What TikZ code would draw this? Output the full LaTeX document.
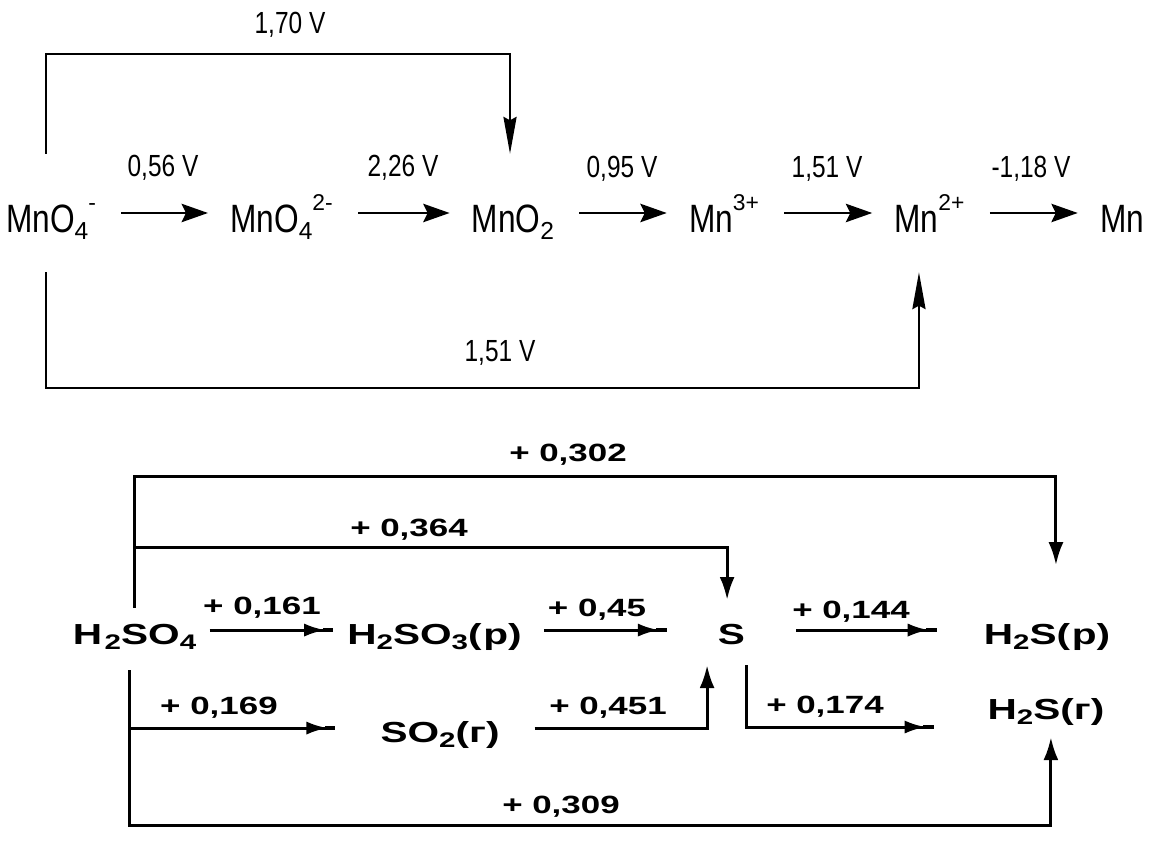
\documentclass[tikz,border=0pt]{standalone}
\usepackage{fontspec}
\setmainfont{Liberation Sans}
\newfontfamily\mnfont[FakeStretch=0.8]{Liberation Sans}
\newfontfamily\sbfont[FakeStretch=1.4]{Liberation Sans Bold}
\usetikzlibrary{arrows.meta}
\newcommand{\chup}[1]{\raisebox{12.5pt}{\rmfamily\fontsize{13}{13}\selectfont #1}}
\newcommand{\chdn}[1]{\raisebox{-4pt}{\rmfamily\fontsize{14}{14}\selectfont #1}}
\newcommand{\sdn}[1]{\raisebox{-2.5pt}{\fontsize{12}{12}\selectfont #1}}
\tikzset{
  mnspecies/.style={font=\mnfont\fontsize{22.5}{26}\selectfont, inner sep=0pt, minimum height=2cm, text height=24pt, text depth=1.3pt},
  mnvolt/.style={font=\mnfont\fontsize{17.4}{20}\selectfont, inner sep=0pt},
  mnarrow/.style={line width=1pt, -{Stealth[length=15pt,width=10.5pt,inset=2.5pt]}, shorten <=14.2pt, shorten >=12.5pt},
  mnloop/.style={line width=1pt, shorten <=5.1pt, shorten >=5.1pt},
  mnloopto/.style={mnloop, -{Stealth[length=21pt,width=7.5pt,inset=2pt]}},
  sspecies/.style={font=\sbfont\fontsize{16.5}{18}\selectfont, inner sep=0pt, text height=17pt, text depth=0pt, anchor=base},
  svolt/.style={font=\sbfont\fontsize{14.2}{16}\selectfont, inner sep=0pt},
  sline/.style={line width=1.7pt},
  sarrow/.style={sline, -{Latex[length=12pt,width=7.5pt,sep=-1.5pt] Rectangle[length=6pt,width=2.6pt,sep=0pt]}},
  sarrowv/.style={sline, -{Latex[length=13pt,width=8.5pt]}}
}
\begin{document}
\begin{tikzpicture}[x=0.02cm,y=-0.02cm]
        \useasboundingbox (0,0) rectangle (1150,864);

        % manganese
        \node[mnspecies] (mno4) at (51,213) {MnO\chdn{4}\chup{-}};
        \node[mnspecies] (mno42) at (281.5,213) {MnO\chdn{4}\chup{2-}};
        \node[mnspecies] (mno2) at (513,213) {MnO\chdn{2}};
        \node[mnspecies] (mn3) at (724,213) {Mn\chup{3+}};
        \node[mnspecies] (mn2) at (929.5,213) {Mn\chup{2+}};
        \node[mnspecies] (mn) at (1122,213) {Mn};

        \draw[mnarrow] (mno4) -- (mno42);
        \draw[mnarrow] (mno42) -- (mno2);
        \draw[mnarrow] (mno2) -- (mn3);
        \draw[mnarrow] (mn3) -- (mn2);
        \draw[mnarrow] (mn2) -- (mn);
        \draw[mnloopto] ([xshift=-2.8pt]mno4.north) -- ++(0,-109) -| ([xshift=-1.7pt]mno2.north);
        \draw[mnloopto] ([xshift=-2.8pt]mno4.south) -- ++(0,125) -| ([xshift=-6pt]mn2.south);

        \node[mnvolt] (u170) at (290,25) {1,70 V};
        \node[mnvolt] (u056) at (163,168) {0,56 V};
        \node[mnvolt] (u226) at (403,168) {2,26 V};
        \node[mnvolt] (u095) at (622,169) {0,95 V};
        \node[mnvolt] (u151) at (827,169) {1,51 V};
        \node[mnvolt] (u118) at (1031,169) {-1,18 V};
        \node[mnvolt] (u151b) at (500,353) {1,51 V};

        % sulfur
        \node[sspecies] (h2so4) at (134.5,645) {H\kern1.5pt\sdn{2}SO\sdn{4}};
        \node[sspecies] (h2so3) at (434.5,645) {H\sdn{2}SO\sdn{3}(\kern1pt р)};
        \node[sspecies] (s) at (731.5,645) {S};
        \node[sspecies] (h2sp) at (1047,645) {H\sdn{2}S(\kern1pt р)};
        \node[sspecies] (so2) at (440,743) {SO\sdn{2}(г)};
        \node[sspecies] (h2sg) at (1046,720) {H\sdn{2}S(г)};

        \draw[sarrowv, shorten <=4pt, shorten >=28.3pt] (h2so4.north) -- ++(0,-138) -| ([xshift=5.1pt]h2sp.north);
        \draw[sarrowv, shorten <=4pt, shorten >=8.5pt] (h2so4.north) -- ++(0,-67) -| ([xshift=-2.5pt]s.north);
        \draw[sarrow, shorten <=7.4pt, shorten >=7.9pt] (h2so4.east) -- (h2so3.west);
        \draw[sarrow, shorten <=12.5pt, shorten >=28.9pt] (h2so3.east) -- (s.west);
        \draw[sarrow, shorten <=28.9pt, shorten >=26.6pt] (s.east) -- (h2sp.west);
        \draw[sarrow, shorten <=14.2pt, shorten >=25.5pt] ([xshift=-3.1pt]h2so4.south) |- (so2.west);
        \draw[sarrowv, shorten <=19.8pt, shorten >=11.3pt] (so2.east) -| ([xshift=-13.9pt]s.south);
        \draw[sarrow, shorten <=11.3pt, shorten >=30.6pt] ([xshift=8.8pt]s.south) |- ([yshift=-12.5pt]h2sg.west);
        \draw[sarrowv, shorten <=14.2pt, shorten >=9.6pt] ([xshift=-3.1pt]h2so4.south) -- ++(0,180) -| ([xshift=2.8pt]h2sg.south);

        \node[svolt] (e302) at (568,455) {+ 0,302};
        \node[svolt] (e364) at (409,530) {+ 0,364};
        \node[svolt] (e161) at (262,608) {+ 0,161};
        \node[svolt] (e045) at (597,610) {+ 0,45};
        \node[svolt] (e144) at (851,612) {+ 0,144};
        \node[svolt] (e169) at (219,708) {+ 0,169};
        \node[svolt] (e451) at (608,708) {+ 0,451};
        \node[svolt] (e174) at (825,707) {+ 0,174};
        \node[svolt] (e309) at (561,807) {+ 0,309};
    \end{tikzpicture}
\end{document}
